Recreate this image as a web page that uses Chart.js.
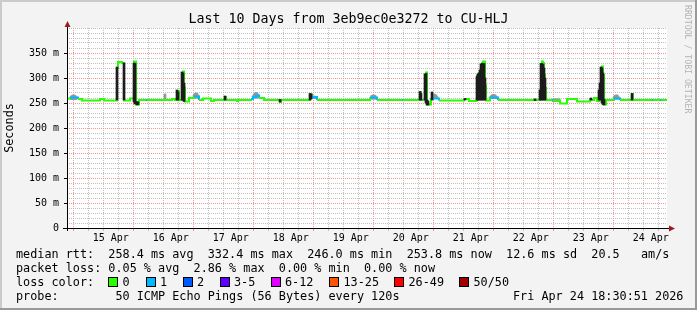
<!DOCTYPE html>
<html><head><meta charset="utf-8">
<script src="https://cdn.jsdelivr.net/npm/chart.js@4.4.1/dist/chart.umd.min.js"></script>
<style>
html,body{margin:0;padding:0;background:#f3f3f3;}
#wrap{position:relative;width:697px;height:310px;overflow:hidden;}
#c{position:absolute;left:0;top:0;}
.t{position:absolute;font-family:'DejaVu Sans Mono',monospace;white-space:pre;color:#000;}
.box{position:absolute;box-sizing:border-box;border:1px solid #000;}
</style></head>
<body>
<div id="wrap"><canvas id="c" width="697" height="310"></canvas></div>
<script>
// ---------- data (hours since 14 Apr 00:00) ----------
const titleText = 'Last 10 Days from 3eb9ec0e3272 to CU-HLJ';
const yAxisTitle = 'Seconds';
const watermark = 'RRDTOOL / TOBI OETIKER';
const dayLabels = ['15 Apr','16 Apr','17 Apr','18 Apr','19 Apr','20 Apr','21 Apr','22 Apr','23 Apr','24 Apr'];
const xStartHour = 18.5, xEndHour = 258.5;
const yMaxMs = 400;

const medianHours = [18.5,19.7,22.9,24.5,31.7,33.3,38.5,38.9,40.5,41.3,
 43.7,45.3,46.1,47.3,50.1,50.5,60.5,61.7,62.5,63.3,
 64.5,64.9,65.3,65.7,67.3,69.3,71.3,72.9,76.1,77.3,
 81.7,82.1,86.5,86.9,92.1,92.9,94.1,95.3,97.3,103.7,
 104.1,115.7,116.5,118.5,139.7,142.5,152.5,152.9,159.7,160.1,
 161.7,162.1,162.5,164.1,164.9,167.3,177.3,179.3,182.1,182.5,
 183.3,184.1,184.5,184.9,185.7,186.1,187.7,190.9,205.7,206.1,
 207.7,208.1,208.5,208.9,209.3,209.7,210.1,212.5,212.9,215.7,
 218.5,222.5,227.7,229.3,230.5,231.3,231.7,232.1,232.5,232.9,
 233.3,234.1,237.3,239.7,244.5,244.9,252.5,252.9,255.7,256.1,
 258.1];
const medianMs = [259,261,258,255,258,255,320,332,330,255,
 259,333,247,256,256,256,258,256,274,256,
 300,313,281,253,260,263,256,259,254,256,
 262,256,254,256,258,262,265,260,256,252,
 256,267,262,256,261,256,256,256,272,256,
 300,311,247,258,259,255,258,254,255,305,
 310,320,330,333,285,255,261,256,257,256,
 263,275,333,330,306,280,256,256,255,249,
 258,253,256,260,254,266,286,300,323,306,
 247,256,259,256,268,256,256,256,256,256,
 254];
const medianLoss = [0,1,0,0,0,0,0,0,0,0,
 0,0,0,0,1,0,0,0,0,0,
 0,0,0,0,0,1,0,0,0,0,
 0,0,0,0,1,1,1,0,0,0,
 0,0,1,0,1,0,1,0,0,0,
 0,0,0,0,1,0,0,0,0,0,
 0,0,0,0,0,0,1,0,0,0,
 0,0,0,0,0,0,0,1,0,0,
 0,0,0,0,0,0,0,0,0,0,
 0,0,1,0,0,0,1,0,1,0,
 0];

const smokeHours = [20.1,20.5,20.9,21.3,21.7,22.1,38.5,41.3,45.3,45.7,
 46.5,46.9,57.7,62.5,62.9,64.5,64.9,65.3,69.3,69.7,
 70.1,70.5,70.9,81.7,92.9,93.3,93.7,94.1,94.5,94.9,
 103.7,115.7,116.1,116.9,117.3,117.7,140.1,140.5,140.9,141.3,
 141.7,142.1,159.7,160.1,161.7,162.1,162.5,162.9,164.5,164.9,
 165.3,165.7,166.1,166.5,177.7,182.5,182.9,183.3,183.7,184.1,
 184.5,184.9,185.3,185.7,187.7,188.1,188.5,188.9,189.3,189.7,
 190.1,190.5,205.7,207.7,208.1,208.5,208.9,209.3,209.7,212.9,
 213.3,213.7,214.1,214.5,214.9,215.3,228.1,231.3,231.7,232.1,
 232.5,232.9,233.3,237.3,237.7,238.1,238.5,238.9,239.3,244.5];
const smokeLowMs = [257,257,257,257,257,257,256,256,252,248,
 246,247,256,256,256,256,256,253,260,260,
 260,260,260,256,260,260,260,260,260,260,
 252,256,258,259,259,259,258,258,258,258,
 258,258,256,256,256,250,246,246,256,259,
 259,259,259,259,256,256,256,256,256,256,
 256,256,256,256,259,259,259,259,259,259,
 259,259,255,256,256,256,256,256,256,253,
 253,253,253,253,253,253,256,256,256,256,
 250,247,246,258,258,258,258,258,258,256];
const smokeHighMs = [263,265,266,266,265,263,322,330,330,329,
 253,252,268,276,272,312,310,290,266,269,
 270,269,266,264,264,267,270,271,270,267,
 257,269,268,264,264,263,262,265,266,266,
 265,262,273,269,308,309,256,254,272,268,
 268,267,266,263,259,303,308,310,316,328,
 329,329,329,300,262,264,266,267,267,266,
 264,262,258,276,329,329,327,320,300,258,
 258,258,258,258,258,258,260,276,290,322,
 320,310,257,262,265,266,266,264,261,269];
const smokeShade = [1,1,1,1,1,1,0,0,0,0,
 0,0,1,0,0,0,0,0,1,1,
 1,1,1,0,1,1,1,1,1,1,
 0,0,0,1,1,1,1,1,1,1,
 1,1,0,0,0,0,0,0,0,1,
 1,1,1,1,0,0,0,0,0,0,
 0,0,0,0,1,1,1,1,1,1,
 1,1,0,0,0,0,0,0,0,1,
 1,1,1,1,1,1,0,0,0,0,
 0,0,0,1,1,1,1,1,1,0];

const lossLabels = ['0','1','2','3-5','6-12','13-25','26-49','50/50'];
const lossColors = ['#26ff00','#00b8ff','#0059ff','#5e00ff','#dd00ff','#ff5500','#ff0000','#a10000'];
const legendLines = [
 'median rtt:  258.4 ms avg  332.4 ms max  246.0 ms min  253.8 ms now  12.6 ms sd  20.5   am/s',
 'packet loss: 0.05 % avg  2.86 % max  0.00 % min  0.00 % now',
 'loss color:',
 'probe:        50 ICMP Echo Pings (56 Bytes) every 120s'
];
const dateStamp = 'Fri Apr 24 18:30:51 2026';

// ---------- overlay texts ----------
const wrap = document.getElementById('wrap');
function addText(txt, css){ const d=document.createElement('div'); d.className='t'; d.textContent=txt; Object.assign(d.style, css); wrap.appendChild(d); return d; }
addText(titleText, {left:'0px', top:'11px', width:'697px', textAlign:'center', fontSize:'13.3px', lineHeight:'16px'});
addText(watermark, {left:'683px', top:'5px', fontSize:'8.2px', lineHeight:'10px', writingMode:'vertical-rl', color:'#b4b4b4'});
legendLines.forEach((l,i)=> addText(l, {left:'16px', top:(247+i*14)+'px', fontSize:'11.8px', lineHeight:'14px'}));
addText(dateStamp, {left:'513px', top:(247+3*14)+'px', fontSize:'11.8px', lineHeight:'14px'});
const boxLefts = [108,145.5,182.5,219.5,270.5,329,394,459];
lossLabels.forEach((lab,i)=>{
  const b=document.createElement('div'); b.className='box';
  Object.assign(b.style,{left:boxLefts[i]+'px', top:'277px', width:'10px', height:'10px', background:lossColors[i]});
  wrap.appendChild(b);
  addText(lab, {left:(boxLefts[i]+14.5)+'px', top:(247+2*14)+'px', fontSize:'11.8px', lineHeight:'14px'});
});

// ---------- chart ----------
const MINOR = 'rgba(185,185,185,0.9)';
const MAJOR = 'rgba(245,130,130,0.85)';

const framePlugin = {
  id:'frame',
  beforeDraw(chart){
    const {ctx, chartArea:a, width, height} = chart;
    ctx.save();
    ctx.fillStyle='#f3f3f3'; ctx.fillRect(0,0,width,height);
    ctx.fillStyle='#ffffff'; ctx.fillRect(a.left,a.top,a.right-a.left,a.bottom-a.top);
    ctx.fillStyle='#cbcbcb'; ctx.fillRect(0,0,width,2); ctx.fillRect(0,0,2,height);
    ctx.fillStyle='#999999'; ctx.fillRect(0,height-2,width,2); ctx.fillRect(width-2,0,2,height);
    ctx.restore();
  },
  afterDraw(chart){
    const {ctx, chartArea:a} = chart;
    ctx.save();
    ctx.strokeStyle='#000'; ctx.lineWidth=1;
    ctx.beginPath();
    ctx.moveTo(a.left-4, a.bottom+0.5); ctx.lineTo(a.right+2, a.bottom+0.5);
    ctx.moveTo(a.left+0.5, a.bottom+3); ctx.lineTo(a.left+0.5, a.top-2);
    ctx.stroke();
    ctx.fillStyle='#9c1c1c';
    ctx.beginPath(); ctx.moveTo(a.left+0.5,a.top-7); ctx.lineTo(a.left-2.5,a.top-1); ctx.lineTo(a.left+3.5,a.top-1); ctx.closePath(); ctx.fill();
    ctx.beginPath(); ctx.moveTo(a.right+8,a.bottom+0.5); ctx.lineTo(a.right+2,a.bottom-2.5); ctx.lineTo(a.right+2,a.bottom+3.5); ctx.closePath(); ctx.fill();
    ctx.restore();
  }
};

function smokeData(shade){
  const out=[];
  smokeHours.forEach((h,i)=>{ if(smokeShade[i]===shade) out.push({x:h, y:[smokeLowMs[i], smokeHighMs[i]]}); });
  return out;
}

Chart.defaults.font.family = "'DejaVu Sans Mono', monospace";
Chart.defaults.color = '#000';

new Chart(document.getElementById('c'), {
  type:'line',
  data:{
    datasets:[
      {
        type:'bar', label:'smoke light', order:3, data: smokeData(1),
        backgroundColor:'#969696', borderWidth:0, borderSkipped:false, barThickness:2, grouped:false
      },
      {
        type:'line', label:'median', order:2,
        data: medianHours.map((h,i)=>({x:h, y:medianMs[i]})),
        stepped:true, borderWidth:2, pointRadius:0, borderColor:lossColors[0],
        segment:{ borderColor: ctx => lossColors[medianLoss[ctx.p0DataIndex]] },
        fill:false, tension:0
      },
      {
        type:'bar', label:'smoke dark', order:1, data: smokeData(0),
        backgroundColor:'#1c1c1c', borderWidth:0, borderSkipped:false, barThickness:2, grouped:false
      }
    ]
  },
  options:{
    responsive:false, animation:false,
    layout:{padding:{left:0, right:30, top:28, bottom:62}},
    plugins:{legend:{display:false}, tooltip:{enabled:false}, title:{display:false}},
    scales:{
      x:{
        type:'linear', min:xStartHour, max:xEndHour, offset:false,
        afterBuildTicks: s => { const t=[]; for(let h=24; h<=258; h+=6) t.push({value:h}); s.ticks=t; },
        afterFit: s => { s.height = 20; },
        ticks:{ autoSkip:false, maxRotation:0, padding:1, font:{size:10},
          callback: v => (v%24===12) ? dayLabels[(v-36)/24] : '' },
        grid:{ color: c => (c.tick && c.tick.value%24===0) ? MAJOR : MINOR, lineWidth:1, drawTicks:true, tickLength:3 },
        border:{ display:false, dash:[1,1] }
      },
      y:{
        type:'linear', min:0, max:yMaxMs,
        afterBuildTicks: s => { const t=[]; for(let v=0; v<=yMaxMs; v+=10) t.push({value:v}); s.ticks=t; },
        afterFit: s => { s.width = 67; },
        ticks:{ autoSkip:false, padding:5, font:{size:10},
          callback: v => (v%50===0 && v<yMaxMs) ? (v===0 ? '0' : v+' m') : '' },
        grid:{ color: c => (c.tick && c.tick.value%50===0 && c.tick.value<yMaxMs) ? MAJOR : MINOR, lineWidth:1, drawTicks:true, tickLength:3,
          tickColor: c => (c.tick && c.tick.value%50===0 && c.tick.value<yMaxMs) ? '#000' : 'rgba(0,0,0,0)' },
        border:{ display:false, dash:[1,1] },
        title:{ display:true, text:yAxisTitle, font:{size:11.8}, color:'#000', padding:{top:3,bottom:0} }
      }
    }
  },
  plugins:[framePlugin]
});
</script>
</body></html>
